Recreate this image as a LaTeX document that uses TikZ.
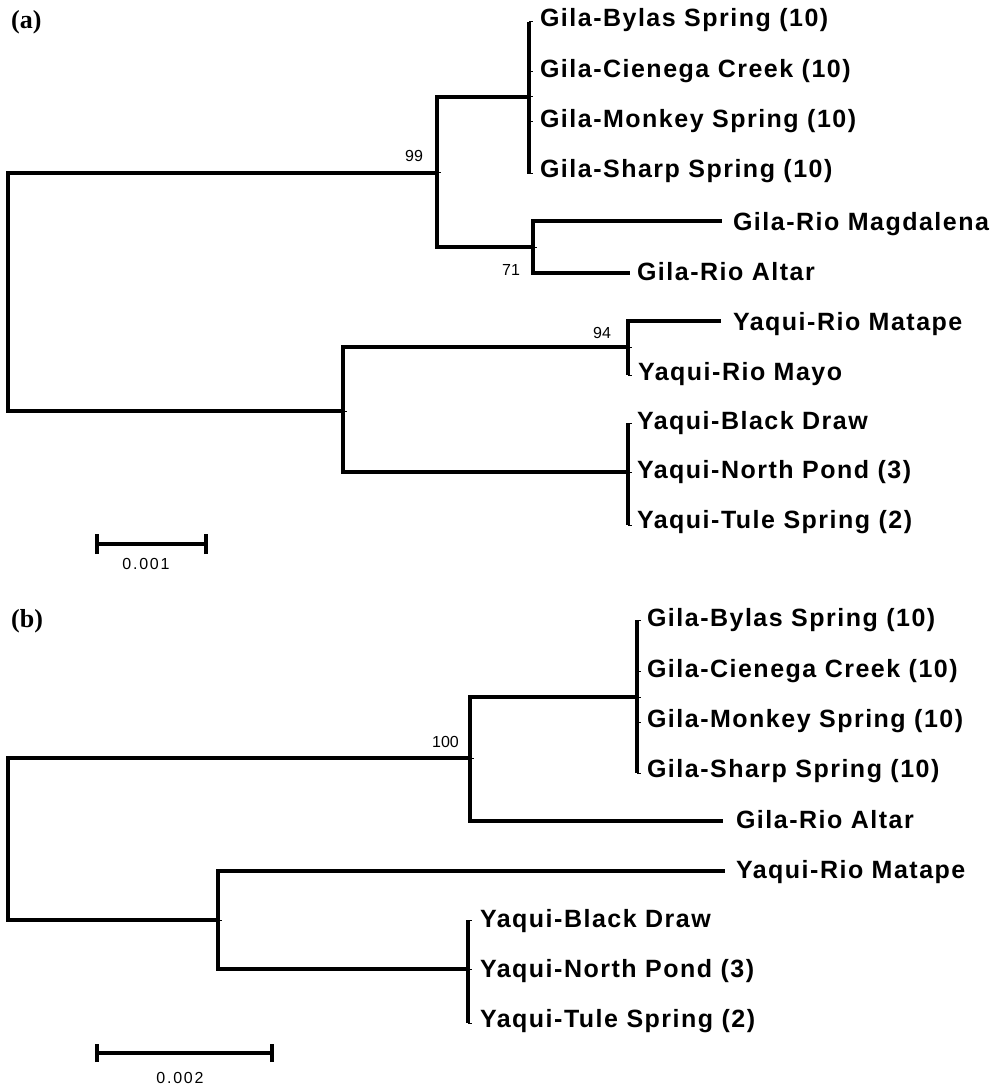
\documentclass[tikz,border=0pt]{standalone}
\usepackage{fontspec}
\setmainfont{Liberation Sans}
\newfontfamily\labfont{Liberation Sans}[LetterSpace=6]
\newfontfamily\sclfont{Liberation Sans}[LetterSpace=11]
\newfontfamily\panfont{Liberation Serif}
\begin{document}
\begin{tikzpicture}[x=1pt,y=-1pt,
  br/.style={line width=3.2pt, line join=miter, line cap=butt},
  tk/.style={line width=1pt},
  lab/.style={font=\labfont\bfseries\fontsize{25}{30}\selectfont, anchor=base west, inner sep=0pt, outer sep=0pt},
  boot/.style={font=\fontsize{16}{19}\selectfont, anchor=base west, inner sep=0pt},
  scl/.style={font=\sclfont\fontsize{16}{19}\selectfont, anchor=base, inner sep=0pt},
  pan/.style={font=\panfont\bfseries\fontsize{26}{30}\selectfont, anchor=base west, inner sep=0pt}]
\useasboundingbox (0,0) rectangle (993,1086);

% ===================== panel (a) =====================
\node[pan] (pa) at (11,29) {(a)};
\coordinate (ra)  at (8,292);
\coordinate (A99) at (437,173);
\coordinate (AG)  at (529,97);
\coordinate (A71) at (533,247);
\coordinate (AY)  at (343,411);
\coordinate (A94) at (628,347);
\coordinate (AYb) at (628,472);
\coordinate (ag1) at (529,22);
\coordinate (ag2) at (529,72);
\coordinate (ag3) at (529,122);
\coordinate (ag4) at (529,174);
\coordinate (amag) at (722,221);
\coordinate (aalt) at (630,273);
\coordinate (amat) at (721,321);
\coordinate (amay) at (628,375);
\coordinate (abd) at (628,423);
\coordinate (anp) at (628,472);
\coordinate (atu) at (628,525);

\draw[br] (ra) |- (A99);
\draw[br] (ra) |- (AY);
\draw[br] (A99) |- (AG);
\draw[br] (A99) |- (A71);
\draw[br] (AG) |- (ag1);
\draw[br] (AG) |- (ag4);
\draw[br] (A71) |- (amag);
\draw[br] (A71) |- (aalt);
\draw[br] (AY) |- (A94);
\draw[br] (AY) |- (AYb);
\draw[br] (A94) |- (amat);
\draw[br] (A94) |- (amay);
\draw[br] (AYb) |- (abd);
\draw[br] (AYb) |- (atu);
\foreach \c in {A99,AG,A71,AY,A94,AYb,ag1,ag2,ag3,ag4,amay,abd,anp,atu}
  \draw[tk] (\c) -- ++(4,0);

\node[lab] (la1) at (540,27)  {Gila-Bylas Spring (10)};
\node[lab] (la2) at (540,78)  {Gila-Cienega Creek (10)};
\node[lab] (la3) at (540,128) {Gila-Monkey Spring (10)};
\node[lab] (la4) at (540,178) {Gila-Sharp Spring (10)};
\node[lab] (la5) at (733,230) {Gila-Rio Magdalena};
\node[lab] (la6) at (637,280) {Gila-Rio Altar};
\node[lab] (la7) at (733,330) {Yaqui-Rio Matape};
\node[lab] (la8) at (638,380) {Yaqui-Rio Mayo};
\node[lab] (la9) at (637,429) {Yaqui-Black Draw};
\node[lab] (la10) at (637,478) {Yaqui-North Pond (3)};
\node[lab] (la11) at (637,528) {Yaqui-Tule Spring (2)};

\node[boot] (b99) at (405,162) {99};
\node[boot] (b71) at (502,275) {71};
\node[boot] (b94) at (593,338) {94};

\coordinate (sa1) at (97,544);
\coordinate (sa2) at (206,544);
\draw[br] (sa1) -- (sa2);
\draw[br] ([yshift=-10pt]sa1) -- ([yshift=10pt]sa1);
\draw[br] ([yshift=-10pt]sa2) -- ([yshift=10pt]sa2);
\node[scl] (sla) at (146,569) {0.001};

% ===================== panel (b) =====================
\node[pan] (pb) at (11,627) {(b)};
\coordinate (rb)   at (8,839);
\coordinate (B100) at (470,758);
\coordinate (BG)   at (637,697);
\coordinate (BY)   at (218,920);
\coordinate (BYb)  at (468,969);
\coordinate (bg1) at (637,620);
\coordinate (bg2) at (637,671);
\coordinate (bg3) at (637,722);
\coordinate (bg4) at (637,773);
\coordinate (balt) at (723,821);
\coordinate (bmat) at (725,871);
\coordinate (bbd) at (468,920);
\coordinate (bnp) at (468,969);
\coordinate (btu) at (468,1023);

\draw[br] (rb) |- (B100);
\draw[br] (rb) |- (BY);
\draw[br] (B100) |- (BG);
\draw[br] (B100) |- (balt);
\draw[br] (BG) |- (bg1);
\draw[br] (BG) |- (bg4);
\draw[br] (BY) |- (bmat);
\draw[br] (BY) |- (BYb);
\draw[br] (BYb) |- (bbd);
\draw[br] (BYb) |- (btu);
\foreach \c in {B100,BG,BY,BYb,bg1,bg2,bg3,bg4,bbd,bnp,btu}
  \draw[tk] (\c) -- ++(4,0);

\node[lab] (lb1) at (647,626)  {Gila-Bylas Spring (10)};
\node[lab] (lb2) at (647,677)  {Gila-Cienega Creek (10)};
\node[lab] (lb3) at (647,727)  {Gila-Monkey Spring (10)};
\node[lab] (lb4) at (647,777)  {Gila-Sharp Spring (10)};
\node[lab] (lb5) at (736,828)  {Gila-Rio Altar};
\node[lab] (lb6) at (736,878)  {Yaqui-Rio Matape};
\node[lab] (lb7) at (480,927)  {Yaqui-Black Draw};
\node[lab] (lb8) at (480,977)  {Yaqui-North Pond (3)};
\node[lab] (lb9) at (480,1027) {Yaqui-Tule Spring (2)};

\node[boot] (b100) at (432,747) {100};

\coordinate (sb1) at (97,1053);
\coordinate (sb2) at (272,1053);
\draw[br] (sb1) -- (sb2);
\draw[br] ([yshift=-9pt]sb1) -- ([yshift=9pt]sb1);
\draw[br] ([yshift=-9pt]sb2) -- ([yshift=9pt]sb2);
\node[scl] (slb) at (180,1083) {0.002};
\end{tikzpicture}
\end{document}
